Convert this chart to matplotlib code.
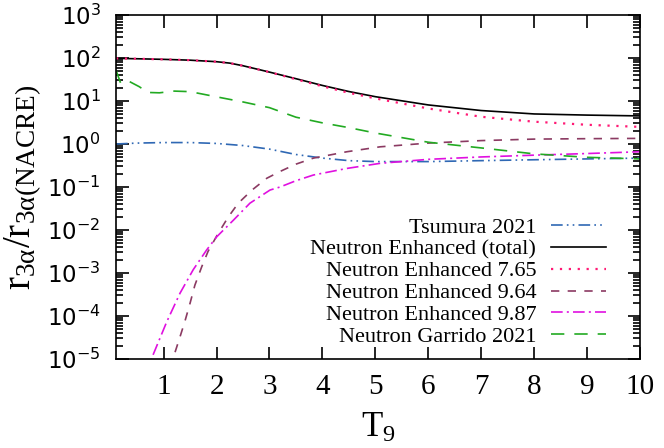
import matplotlib
matplotlib.use("Agg")
import matplotlib.pyplot as plt
from matplotlib.ticker import LogLocator, FixedLocator, FuncFormatter, NullFormatter
import numpy as np

# ---- data ----
T_tsu = [0.1, 0.5, 1.0, 1.5, 2.0, 2.5, 3.0, 3.5, 4.0, 4.5, 5.0, 6.0, 7.0, 8.0, 9.0, 10.0]
r_tsu = [1.0, 1.05, 1.08, 1.08, 1.03, 0.92, 0.76, 0.57, 0.47, 0.41, 0.39, 0.39, 0.41, 0.43, 0.45, 0.47]

T_tot = [0.1, 0.5, 1.0, 1.5, 2.0, 2.25, 2.5, 3.0, 3.5, 4.0, 4.5, 5.0, 6.0, 7.0, 8.0, 9.0, 10.0]
r_tot = [98, 96, 93, 89, 82, 76, 66, 47, 33, 23, 16.6, 12.6, 8.1, 6.0, 5.0, 4.7, 4.5]

T_765 = [0.1, 0.5, 1.0, 1.5, 2.0, 2.25, 2.5, 3.0, 3.5, 4.0, 4.5, 5.0, 6.0, 7.0, 8.0, 9.0, 10.0]
r_765 = [98, 96, 93, 89, 82, 76, 66, 47, 32, 22, 15.5, 11.5, 6.7, 4.3, 3.3, 2.8, 2.5]

T_964 = [1.1, 1.18, 1.31, 1.4, 1.5, 1.59, 1.72, 1.84, 2.03, 2.22, 2.41, 2.67, 2.95, 3.2, 3.5, 3.83,
         4.46, 5.09, 6.0, 7.0, 8.0, 9.0, 10.0]
r_964 = [2.5e-6, 1.05e-5, 3.3e-5, 7.4e-5, 2e-4, 5.2e-4, 1.4e-3, 3.2e-3, 8.3e-3, 0.02, 0.042, 0.085,
         0.16, 0.23, 0.34, 0.47, 0.66, 0.86, 1.05, 1.2, 1.3, 1.33, 1.35]

T_987 = [0.7, 0.775, 1.06, 1.31, 1.56, 1.81, 2.0, 2.32, 2.63, 3.01, 3.2, 3.5, 3.83, 4.46, 5.09,
         6.0, 7.0, 8.0, 9.0, 10.0]
r_987 = [4e-6, 1.05e-5, 7.4e-5, 3.4e-4, 1.2e-3, 3.4e-3, 6.9e-3, 0.017, 0.042, 0.085, 0.10, 0.14,
         0.19, 0.27, 0.355, 0.44, 0.50, 0.55, 0.60, 0.66]

T_gar = [0.1, 0.19, 0.35, 0.54, 0.7, 0.92, 1.2, 1.5, 2.0, 2.5, 3.0, 3.5, 4.0, 4.5, 5.0, 6.0,
         7.0, 8.0, 9.0, 10.0]
r_gar = [52, 25.6, 28.5, 21.5, 15.8, 15.5, 17, 16.5, 12.5, 9.5, 7, 4.2, 3.1, 2.4, 1.8, 1.1,
         0.81, 0.59, 0.49, 0.45]

labels = ["Tsumura 2021", "Neutron Enhanced (total)", "Neutron Enhanced 7.65",
          "Neutron Enhanced 9.64", "Neutron Enhanced 9.87", "Neutron Garrido 2021"]
xticks = [1, 2, 3, 4, 5, 6, 7, 8, 9, 10]

SERIF = "Liberation Serif"

W, H = 664, 448
fig = plt.figure(figsize=(W/100, H/100), dpi=100)
ax = fig.add_axes([116/W, (H-359)/H, 524/W, 344/H])

lw = 1.2
ax.plot(T_tsu, r_tsu, color="#2f68b4", lw=lw, dashes=(7, 2.5, 1, 2.5, 1, 2.5), label=labels[0])
ax.plot(T_tot, r_tot, color="#000000", lw=lw, label=labels[1])
ax.plot(T_765, r_765, color="#ff1a75", lw=1.6, dashes=(1.0, 3.0), label=labels[2])
ax.plot(T_964, r_964, color="#8b3a62", lw=lw, dashes=(5, 5), label=labels[3])
ax.plot(T_987, r_987, color="#e010e0", lw=lw, dashes=(7, 2.5, 1.2, 2.5), label=labels[4])
ax.plot(T_gar, r_gar, color="#22aa22", lw=lw, dashes=(8, 6), label=labels[5])

ax.set_yscale("log")
ax.set_xlim(0.1, 10)
ax.set_ylim(1e-5, 1e3)

ax.xaxis.set_major_locator(FixedLocator(xticks))
ax.set_xticklabels([str(t) for t in xticks], family=SERIF, fontsize=21)
ax.yaxis.set_major_locator(LogLocator(base=10, numticks=20))
ax.yaxis.set_minor_locator(LogLocator(base=10, subs=np.arange(2, 10), numticks=50))
ax.yaxis.set_minor_formatter(NullFormatter())
ax.yaxis.set_major_formatter(FuncFormatter(lambda v, p: r"$\mathregular{10^{%d}}$" % int(round(np.log10(v)))))

ax.tick_params(which="both", direction="in", top=True, right=True, width=1.2)
ax.tick_params(which="major", length=9)
ax.tick_params(which="minor", length=5)
ax.tick_params(axis="y", which="major", pad=11, labelsize=16.5, labelfontfamily="DejaVu Sans")
ax.tick_params(axis="x", which="major", pad=11)
for s in ax.spines.values():
    s.set_linewidth(1.2)

ax.set_xlabel(r"$\mathregular{T_9}$", family=SERIF, fontsize=25, labelpad=8)
ax.set_ylabel(r"$\mathregular{r_{3α}/r_{3α(NACRE)}}$", family=SERIF, fontsize=28, labelpad=2)

leg = ax.legend(loc="upper right", bbox_to_anchor=(617/W, (H-206)/H),
                bbox_transform=fig.transFigure, frameon=False,
                markerfirst=False, handlelength=2.45, handletextpad=0.68,
                labelspacing=0.06, borderpad=0, prop={"family": SERIF, "size": 16})

fig.savefig("out.png", dpi=100)
